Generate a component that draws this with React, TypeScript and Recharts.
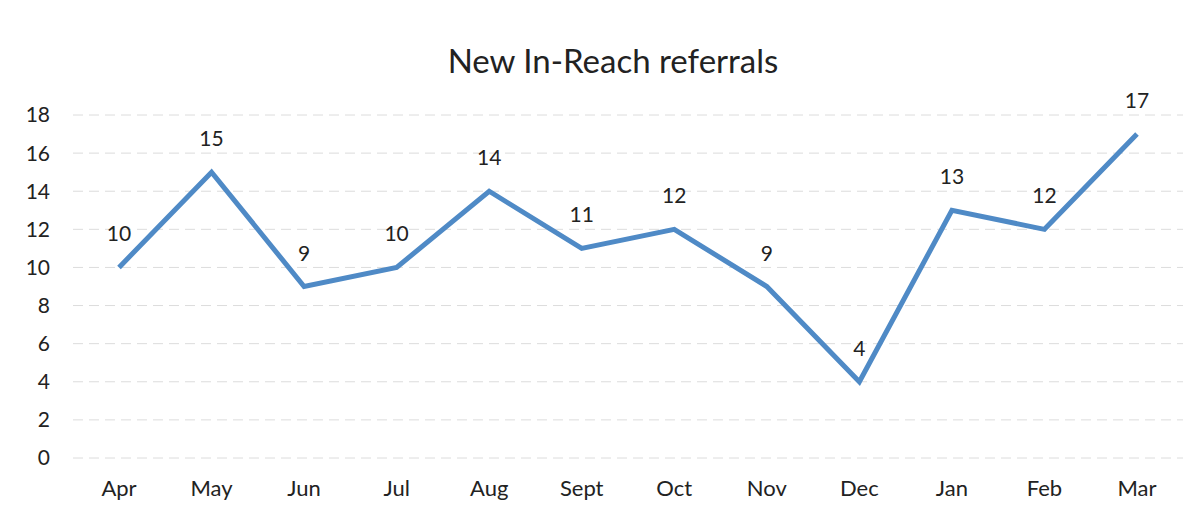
import { LineChart, Line, XAxis, YAxis, CartesianGrid, LabelList } from "recharts";

const months = ["Apr", "May", "Jun", "Jul", "Aug", "Sept", "Oct", "Nov", "Dec", "Jan", "Feb", "Mar"];
const referrals = [10, 15, 9, 10, 14, 11, 12, 9, 4, 13, 12, 17];
const yTicks = [0, 2, 4, 6, 8, 10, 12, 14, 16, 18];

const data = months.map((m, i) => ({ month: m, referrals: referrals[i] }));

const font = "Lato, 'Open Sans', sans-serif";

export default function App() {
  return (
    <div style={{ position: "absolute", left: 0, top: 0, width: 1192, height: 517, background: "#fff", fontFamily: font }}>
      <div
        style={{
          position: "absolute",
          top: 38,
          left: 0,
          width: 1226,
          textAlign: "center",
          fontSize: 33,
          lineHeight: "44px",
          color: "#222",
        }}
      >
        New In-Reach referrals
      </div>
      <LineChart width={1192} height={517} data={data} margin={{ top: 115, right: 9, bottom: 0, left: 0 }}>
        <CartesianGrid vertical={false} stroke="#dcdcdc" strokeDasharray="10 6" />
        <XAxis
          dataKey="month"
          height={59}
          padding={{ left: 46, right: 46 }}
          axisLine={false}
          tickLine={false}
          tickSize={0}
          tickMargin={22}
          tick={{ fill: "#222", fontSize: 22, fontFamily: font }}
          interval={0}
        />
        <YAxis
          width={73}
          domain={[0, 18]}
          ticks={yTicks}
          axisLine={false}
          tickLine={false}
          tickSize={0}
          tickMargin={23}
          tick={{ fill: "#222", fontSize: 21, fontFamily: font }}
        />
        <Line
          type="linear"
          dataKey="referrals"
          stroke="#4f8ac6"
          strokeWidth={5}
          dot={false}
          isAnimationActive={false}
        >
          <LabelList dataKey="referrals" position="top" offset={26} fill="#222" fontSize={21} fontFamily={font} />
        </Line>
      </LineChart>
    </div>
  );
}
